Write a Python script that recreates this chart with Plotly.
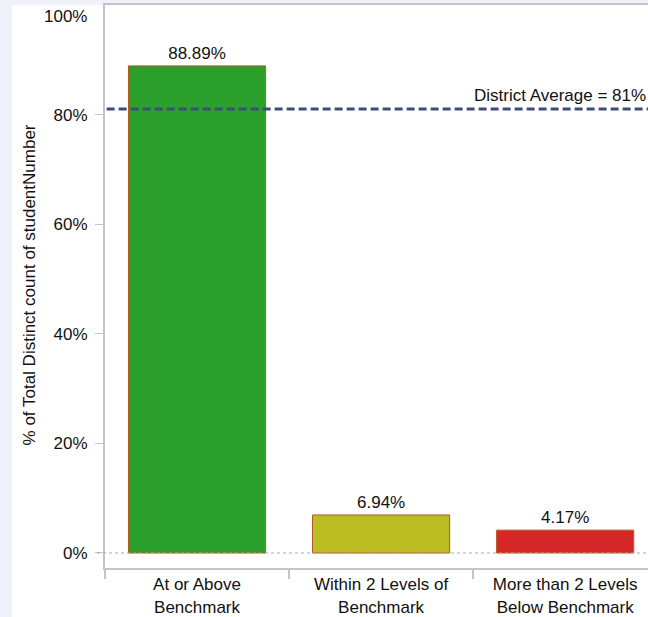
import plotly.graph_objects as go

# data
categories = ["At or Above<br>Benchmark", "Within 2 Levels of<br>Benchmark", "More than 2 Levels<br>Below Benchmark"]
percents = [88.89, 6.94, 4.17]
bar_colors = ["#2ca02c", "#bcbd22", "#d62728"]
district_average = 81
y_ticks = [0, 20, 40, 60, 80]
y_tick_labels = ["0%", "20%", "40%", "60%", "80%"]

FONT = "Liberation Sans, Arial, sans-serif"
AXIS_GRAY = "#c4c4c4"

fig = go.Figure(data=[
    go.Bar(
        x=categories,
        y=percents,
        width=0.745,
        marker=dict(color=bar_colors, line=dict(color="#b4581c", width=1)),
        texttemplate="%{y:.2f}%",
        textposition="outside",
        textfont=dict(family=FONT, size=17, color="#111"),
        cliponaxis=False,
        showlegend=False,
    )
])

# white card over the lavender page, leaving strips on the left and top
fig.add_shape(type="rect", xref="paper", yref="paper",
              x0=-0.1713, x1=1.01, y0=-0.1, y1=1,
              fillcolor="white", line=dict(width=0), layer="below")

# dotted zero line
fig.add_shape(type="line", xref="paper", yref="y",
              x0=-0.0147, x1=1, y0=0, y1=0,
              line=dict(color="#aaaaaa", width=1, dash="dot"))

# district average line
fig.add_shape(type="line", xref="paper", yref="y",
              x0=0.003, x1=1, y0=district_average, y1=district_average,
              line=dict(color="#404c78", width=3, dash="8px,4px"))

fig.add_annotation(x=1, y=district_average, xref="paper", yref="y",
                   text=f"District Average = {district_average}%",
                   showarrow=False, xanchor="right", yanchor="bottom",
                   xshift=0, yshift=2,
                   font=dict(family=FONT, size=17, color="#111"))

# axis title and clipped top label
fig.add_annotation(x=-0.14, y=0.5036, xref="paper", yref="paper",
                   text="% of Total Distinct count of studentNumber",
                   textangle=-90, showarrow=False,
                   xanchor="center", yanchor="middle",
                   font=dict(family=FONT, size=17, color="#111"))
fig.add_annotation(x=-0.0295, y=100, xref="paper", yref="y",
                   text="100%", showarrow=False,
                   xanchor="right", yanchor="middle", yshift=-11,
                   font=dict(family=FONT, size=17, color="#111"))

fig.update_layout(
    width=648,
    height=617,
    margin=dict(l=105, r=0, t=5, b=49),
    paper_bgcolor="#f1f1f9",
    plot_bgcolor="white",
    font=dict(family=FONT, size=17, color="#111"),
    bargap=0.25,
    xaxis=dict(
        range=[-0.5, 2.45],
        showgrid=False,
        showline=True, linecolor=AXIS_GRAY, linewidth=2, mirror=True,
        ticks="outside", tickson="boundaries", ticklen=9,
        tickcolor=AXIS_GRAY, tickwidth=2,
        tickfont=dict(family=FONT, size=17, color="#111"),
    ),
    yaxis=dict(
        range=[-2.74, 100],
        showgrid=False, zeroline=False,
        showline=True, linecolor=AXIS_GRAY, linewidth=2,
        tickvals=y_ticks, ticktext=y_tick_labels,
        ticks="outside", ticklen=8, tickcolor=AXIS_GRAY, tickwidth=1,
        ticklabelstandoff=4,
        tickfont=dict(family=FONT, size=17, color="#111"),
    ),
)

# drop the browser's default page margin so the figure sits at the corner
fig.write_html("out.html", config={"displayModeBar": False},
               post_script="document.body.style.margin='0';")
